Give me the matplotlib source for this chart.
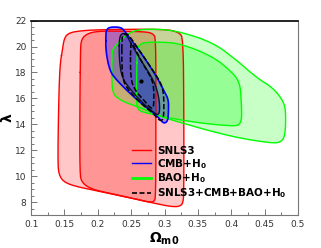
import numpy as np
import matplotlib
matplotlib.use('Agg')
import matplotlib.pyplot as plt
from matplotlib.lines import Line2D

# contour boundaries (Omega_m0, lambda)
snls_2s = [(0.147, 19.8), (0.143, 18.5), (0.141, 15.0), (0.140, 10.9), (0.142, 10.1),
           (0.148, 9.6), (0.163, 9.25), (0.20, 8.85), (0.25, 8.3), (0.29, 7.85),
           (0.31, 7.65), (0.322, 7.65), (0.328, 7.9), (0.329, 9.0), (0.329, 15.0),
           (0.328, 20.6), (0.322, 21.1), (0.30, 21.35), (0.20, 21.3), (0.172, 21.2),
           (0.157, 21.05), (0.150, 20.7)]
snls_1s = [(0.174, 19.8), (0.173, 15.0), (0.173, 10.2), (0.176, 9.5), (0.19, 9.0),
           (0.22, 8.65), (0.26, 8.2), (0.276, 8.0), (0.284, 8.0), (0.287, 8.4),
           (0.287, 15.0), (0.287, 20.6), (0.283, 21.0), (0.27, 21.15), (0.21, 21.2),
           (0.19, 21.1), (0.179, 20.8), (0.175, 20.4)]
bao_2s = [(0.221, 19.6), (0.221, 17.5), (0.222, 16.6), (0.226, 16.15), (0.24, 15.7),
          (0.268, 15.2), (0.293, 14.6), (0.33, 14.05), (0.36, 13.6), (0.41, 12.95),
          (0.46, 12.55), (0.474, 12.6), (0.481, 13.1), (0.482, 15.0), (0.478, 15.8),
          (0.463, 16.8), (0.438, 17.6), (0.408, 18.95), (0.373, 20.3), (0.323, 21.15),
          (0.29, 21.35), (0.26, 21.3), (0.245, 21.0), (0.233, 20.4), (0.224, 19.9)]
bao_1s = [(0.259, 19.8), (0.258, 17.0), (0.258, 15.4), (0.262, 15.05), (0.27, 14.9),
          (0.31, 14.45), (0.36, 14.05), (0.405, 13.85), (0.413, 14.0), (0.416, 14.5),
          (0.415, 15.9), (0.413, 17.17), (0.403, 17.94), (0.373, 19.22), (0.323, 20.25),
          (0.29, 20.35), (0.268, 20.3), (0.262, 20.1)]
cmb_2s = [(0.212, 20.9), (0.212, 19.6), (0.218, 18.1), (0.228, 17.42), (0.248, 16.39),
          (0.268, 15.49), (0.283, 14.9), (0.293, 14.4), (0.299, 14.05), (0.305, 14.25),
          (0.306, 15.0), (0.306, 15.9), (0.300, 16.5), (0.288, 17.7), (0.265, 19.5),
          (0.247, 20.7), (0.238, 21.35), (0.232, 21.5), (0.218, 21.5), (0.213, 21.3)]
cmb_1s = [(0.232, 20.7), (0.232, 19.0), (0.236, 17.6), (0.25, 16.6), (0.27, 15.5),
          (0.283, 14.95), (0.29, 14.7), (0.293, 15.0), (0.292, 16.0), (0.285, 17.3),
          (0.265, 18.9), (0.25, 20.2), (0.243, 20.9), (0.237, 21.05)]
joint_2s = [(0.236, 20.6), (0.236, 18.5), (0.238, 17.3), (0.248, 16.5), (0.268, 15.45),
            (0.283, 14.85), (0.29, 14.4), (0.296, 14.25), (0.299, 14.6), (0.299, 16.2),
            (0.296, 17.0), (0.288, 17.75), (0.265, 19.5), (0.247, 20.85), (0.242, 21.0),
            (0.238, 20.9)]
joint_1s = [(0.249, 20.2), (0.249, 17.5), (0.256, 16.6), (0.27, 15.8), (0.28, 15.2),
            (0.284, 15.3), (0.284, 16.9), (0.28, 17.6), (0.265, 18.9), (0.255, 19.9),
            (0.252, 20.3)]
best_fit = (0.265, 17.34)

labels = ['SNLS3', r'CMB+H$_\mathbf{0}$', r'BAO+H$_\mathbf{0}$', r'SNLS3+CMB+BAO+H$_\mathbf{0}$']


def smooth(pts, n=2):
    # chaikin corner cutting on a closed polygon
    p = np.array(pts, dtype=float)
    for _ in range(n):
        q = np.roll(p, -1, axis=0)
        p = np.column_stack([0.75 * p + 0.25 * q, 0.25 * p + 0.75 * q]).reshape(-1, 2)
    return np.vstack([p, p[:1]])


def region(ax, pts, fc, alpha, ec, lw=1.0, ls='-'):
    p = smooth(pts)
    if fc is not None:
        ax.fill(p[:, 0], p[:, 1], color=fc, alpha=alpha, lw=0)
    ax.plot(p[:, 0], p[:, 1], color=ec, lw=lw, ls=ls)


fig = plt.figure(figsize=(3.21, 2.48), dpi=100)
ax = fig.add_axes([0.097, 0.133, 0.831, 0.784])

region(ax, snls_2s, 'red', 0.22, 'red')
region(ax, snls_1s, 'red', 0.25, 'red')
region(ax, bao_2s, 'lime', 0.22, 'lime')
region(ax, bao_1s, 'lime', 0.25, 'lime')
region(ax, cmb_2s, 'blue', 0.3, 'blue', lw=1.2)
region(ax, cmb_1s, 'blue', 0.3, '#101030', lw=1.0)
region(ax, joint_2s, None, 0, 'black', lw=1.1, ls=(0, (3.5, 1.5)))
region(ax, joint_1s, None, 0, 'black', lw=1.1, ls=(0, (3.5, 1.5)))
ax.plot(*best_fit, 'k.', ms=4)

ax.set_xlim(0.1, 0.5)
ax.set_ylim(7, 22)
ax.set_xticks(np.arange(0.1, 0.51, 0.05))
ax.set_xticklabels(['0.1', '0.15', '0.2', '0.25', '0.3', '0.35', '0.4', '0.45', '0.5'])
ax.set_xticks(np.arange(0.1, 0.5, 0.025), minor=True)
ax.set_yticks(np.arange(8, 23, 2))
ax.set_yticks(np.arange(7, 22.1, 0.5), minor=True)
ax.tick_params(which='both', direction='in', color='#777777', labelsize=6.5,
               labelcolor='#333333')
ax.tick_params(which='major', length=4, width=0.7)
ax.tick_params(which='minor', length=2.5, width=0.7)
for s in ['left', 'bottom', 'right']:
    ax.spines[s].set_color('#777777')
ax.spines['top'].set_color('black')
ax.spines['top'].set_linewidth(1.2)

ax.set_xlabel(r'$\mathbf{\Omega_{m0}}$', fontsize=10, labelpad=1)
ax.set_ylabel(r'$\mathbf{\lambda}$', fontsize=10, rotation=90, labelpad=0)

handles = [Line2D([], [], color='red', lw=1),
           Line2D([], [], color='blue', lw=1),
           Line2D([], [], color='lime', lw=2),
           Line2D([], [], color='black', lw=1.2, ls=(0, (3, 1.5)))]
leg = ax.legend(handles, labels, loc='lower left', bbox_to_anchor=(0.364, 0.057, 0.606, 0.305),
                mode='expand', prop={'weight': 'bold', 'size': 7.5},
                frameon=True, fancybox=False, framealpha=0, edgecolor='black',
                handlelength=1.8, borderaxespad=0, labelspacing=0.1, borderpad=0.35,
                handletextpad=0.6)
leg.get_frame().set_linewidth(0.8)

fig.savefig('out.png', dpi=100)
